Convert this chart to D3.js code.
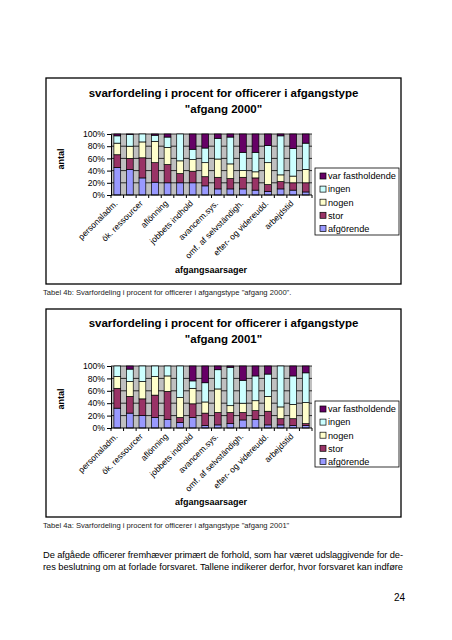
<!DOCTYPE html>
<html><head><meta charset="utf-8">
<script src="https://cdn.jsdelivr.net/npm/d3@7"></script>
<style>
html,body{margin:0;padding:0;background:#fff;}
svg{display:block;font-family:Arial,"Liberation Sans",sans-serif;}
</style></head>
<body>
<svg id="page" width="452" height="640"></svg>
<script>
// ---------- data ----------
const tickLabels = ["personaladm.", "", "ök. ressourcer", "", "aflönning", "", "jobbets indhold", "",
  "avancem.sys.", "", "omf. af selvständigh.", "", "efter- og videreudd.", "", "arbejdstid", ""];
const seriesNames = ["afgörende", "stor", "nogen", "ingen", "var fastholdende"];
const seriesColors = ["#9999FF", "#993366", "#FFFFCC", "#CCFFFF", "#660066"];
const yTicks = [0, 0.2, 0.4, 0.6, 0.8, 1];

// afgang 2000 (percent)
const afgorende2000 = [45, 42, 28, 21, 20, 20, 20, 15, 10, 10, 10, 8, 6, 10, 8, 5];
const stor2000      = [21, 18, 33, 32, 30, 15, 19, 15, 19, 17, 19, 20, 11, 12, 12, 15];
const nogen2000     = [19, 20, 26, 35, 28, 21, 19, 23, 30, 24, 11, 10, 36, 11, 11, 22];
const ingen2000     = [12, 19, 13, 10, 17, 44, 17, 24, 34, 44, 30, 32, 28, 64, 45, 43];
const varFast2000   = [3, 1, 0, 2, 5, 0, 25, 23, 7, 5, 30, 30, 19, 3, 24, 15];

// afgang 2001 (percent)
const afgorende2001 = [32, 24, 20, 17, 14, 9, 17, 4, 5, 7, 13, 14, 5, 5, 4, 4];
const stor2001      = [32, 27, 27, 36, 45, 8, 22, 20, 20, 18, 12, 14, 22, 10, 11, 3];
const nogen2001     = [19, 24, 28, 30, 25, 32, 25, 18, 38, 11, 15, 16, 24, 19, 23, 34];
const ingen2001     = [17, 20, 25, 17, 16, 51, 12, 31, 31, 62, 37, 40, 36, 66, 46, 48];
const varFast2001   = [0, 5, 0, 0, 0, 0, 24, 27, 6, 2, 23, 16, 13, 0, 16, 11];

const charts = [
  { title: ["svarfordeling i procent for officerer i afgangstype", "\"afgang 2000\""],
    series: [afgorende2000, stor2000, nogen2000, ingen2000, varFast2000],
    frame: {x: 46, y: 78, w: 355, h: 206}, titleY: [97, 113],
    plot: {x: 111, y: 134, w: 201, h: 61}, xTitleY: 273, yTitleY: 159,
    legend: {x: 315, y: 168, w: 84, h: 67},
    caption: "Tabel 4b: Svarfordeling i procent for officerer i afgangstype \"afgang 2000\".", captionY: 295 },
  { title: ["svarfordeling i procent for officerer i afgangstype", "\"afgang 2001\""],
    series: [afgorende2001, stor2001, nogen2001, ingen2001, varFast2001],
    frame: {x: 46, y: 309, w: 355, h: 208}, titleY: [327, 343],
    plot: {x: 111, y: 366, w: 201, h: 62}, xTitleY: 505, yTitleY: 399,
    legend: {x: 315, y: 401, w: 84, h: 66},
    caption: "Tabel 4a: Svarfordeling i procent for officerer i afgangstype \"afgang 2001\"", captionY: 528 }
];

const svg = d3.select("#page");

charts.forEach(c => {
  const g = svg.append("g");
  // frame
  g.append("rect").attr("x", c.frame.x).attr("y", c.frame.y).attr("width", c.frame.w).attr("height", c.frame.h)
    .attr("fill", "#fff").attr("stroke", "#000").attr("stroke-width", 1.3);
  // title
  c.title.forEach((t, i) => {
    g.append("text").attr("x", 223.5).attr("y", c.titleY[i]).attr("text-anchor", "middle")
      .attr("font-size", 11.5).attr("font-weight", "bold").text(t);
  });

  const idx = d3.range(tickLabels.length);
  const x = d3.scaleBand().domain(idx).range([c.plot.x, c.plot.x + c.plot.w]).paddingInner(0.46).paddingOuter(0.23);
  const xb = d3.scaleBand().domain(idx).range([c.plot.x, c.plot.x + c.plot.w]);
  const y = d3.scaleLinear().domain([0, 1]).range([c.plot.y + c.plot.h, c.plot.y]);

  // plot background
  g.append("rect").attr("x", c.plot.x).attr("y", c.plot.y).attr("width", c.plot.w).attr("height", c.plot.h)
    .attr("fill", "#C0C0C0");
  // gridlines
  g.append("g").selectAll("line").data(yTicks.slice(1)).join("line")
    .attr("x1", c.plot.x).attr("x2", c.plot.x + c.plot.w)
    .attr("y1", d => y(d)).attr("y2", d => y(d)).attr("stroke", "#000").attr("stroke-width", 0.8);

  // stack
  const rows = idx.map(i => {
    const r = {i};
    seriesNames.forEach((s, k) => r[s] = c.series[k][i]);
    return r;
  });
  const stacked = d3.stack().keys(seriesNames).offset(d3.stackOffsetExpand)(rows);
  g.append("g").selectAll("g").data(stacked).join("g")
    .attr("fill", (d, k) => seriesColors[k])
    .selectAll("rect").data(d => d.filter(p => p[1] - p[0] > 0)).join("rect")
    .attr("x", d => x(d.data.i)).attr("width", x.bandwidth())
    .attr("y", d => y(d[1])).attr("height", d => y(d[0]) - y(d[1]))
    .attr("stroke", "#000").attr("stroke-width", 0.7);

  // y axis
  const yAxis = d3.axisLeft(y).tickValues(yTicks).tickFormat(d3.format(".0%")).tickSize(4).tickPadding(2);
  const ya = g.append("g").attr("transform", `translate(${c.plot.x},0)`).call(yAxis);
  ya.select(".domain").attr("stroke", "#000");
  ya.selectAll("text").attr("font-size", 8.6).attr("font-family", "Arial, 'Liberation Sans', sans-serif").attr("fill", "#000");
  ya.selectAll("line").attr("stroke", "#000");

  // x axis line + ticks at category boundaries
  const base = c.plot.y + c.plot.h;
  g.append("line").attr("x1", c.plot.x).attr("x2", c.plot.x + c.plot.w).attr("y1", base).attr("y2", base)
    .attr("stroke", "#000").attr("stroke-width", 1);
  g.append("g").selectAll("line").data(d3.range(tickLabels.length + 1)).join("line")
    .attr("x1", i => i < tickLabels.length ? xb(i) : c.plot.x + c.plot.w)
    .attr("x2", i => i < tickLabels.length ? xb(i) : c.plot.x + c.plot.w)
    .attr("y1", base).attr("y2", base + 3).attr("stroke", "#000");
  // x labels
  g.append("g").selectAll("text").data(idx.filter(i => tickLabels[i] !== "")).join("text")
    .attr("transform", i => `translate(${xb(i) + xb.bandwidth() / 2 + 1},${base + 9}) rotate(-45)`)
    .attr("text-anchor", "end").attr("font-size", 8.5).text(i => tickLabels[i]);

  // axis titles
  g.append("text").attr("x", 211).attr("y", c.xTitleY).attr("text-anchor", "middle")
    .attr("font-size", 9).attr("font-weight", "bold").text("afgangsaarsager");
  g.append("text").attr("transform", `translate(64,${c.yTitleY}) rotate(-90)`).attr("text-anchor", "middle")
    .attr("font-size", 9).attr("font-weight", "bold").text("antal");

  // legend
  const L = c.legend;
  g.append("rect").attr("x", L.x).attr("y", L.y).attr("width", L.w).attr("height", L.h)
    .attr("fill", "#fff").attr("stroke", "#000").attr("stroke-width", 0.8);
  const order = [4, 3, 2, 1, 0];
  const li = g.append("g").selectAll("g").data(order).join("g")
    .attr("transform", (k, j) => `translate(${L.x + 5},${L.y + 8 + j * 13.1})`);
  li.append("rect").attr("x", 0).attr("y", -3).attr("width", 6).attr("height", 6)
    .attr("fill", k => seriesColors[k]).attr("stroke", "#000").attr("stroke-width", 0.7);
  li.append("text").attr("x", 8).attr("y", 3.3).attr("font-size", 9.2).text(k => seriesNames[k]);

  // caption
  svg.append("text").attr("x", 43).attr("y", c.captionY).attr("font-size", 7.6).attr("fill", "#222").text(c.caption);
});

// body text
const para = [
  "De afgåede officerer fremhæver primært de forhold, som har været udslaggivende for de-",
  "res beslutning om at forlade forsvaret. Tallene indikerer derfor, hvor forsvaret kan indføre"
];
svg.append("g").selectAll("text").data(para).join("text")
  .attr("x", 43).attr("y", (d, i) => 558 + i * 11.5).attr("font-size", 9.3)
  .attr("textLength", 360).attr("lengthAdjust", "spacing").text(d => d);
svg.append("text").attr("x", 405).attr("y", 601).attr("text-anchor", "end").attr("font-size", 10).text("24");
</script>
</body></html>
